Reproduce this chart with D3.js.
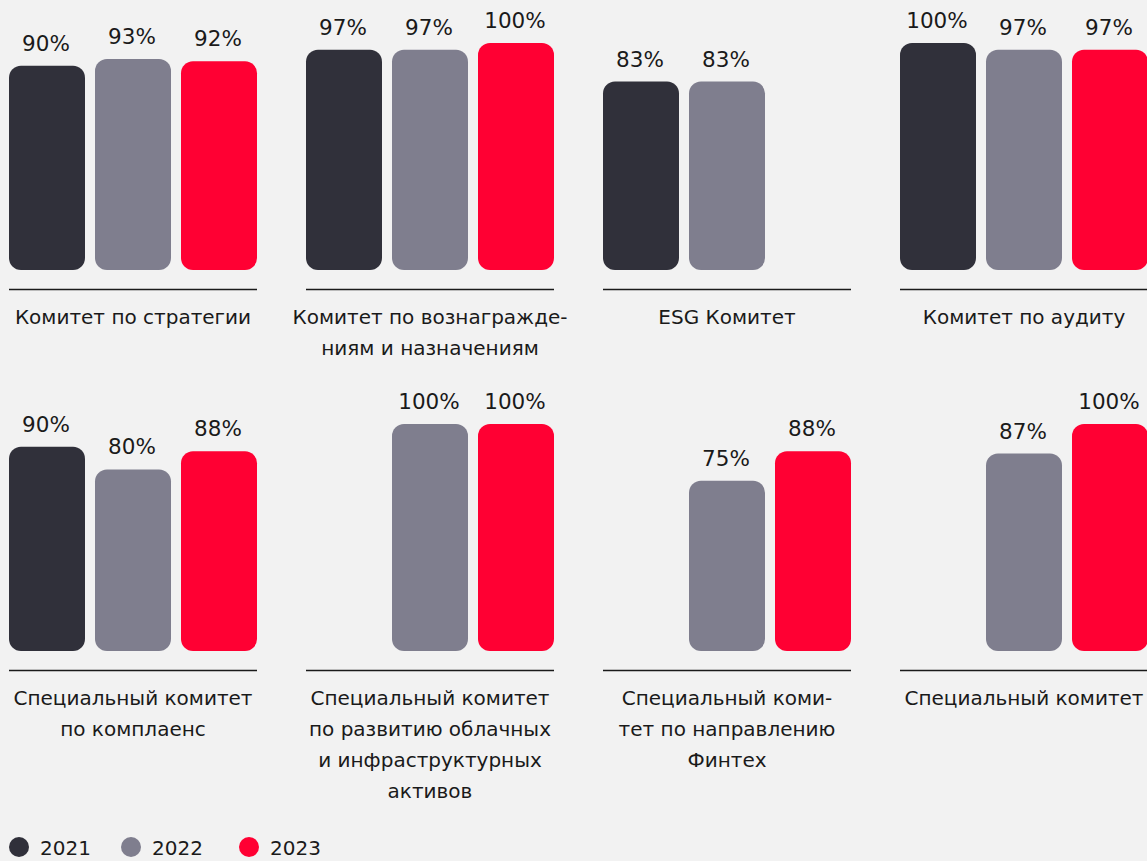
<!DOCTYPE html>
<html>
<head>
<meta charset="utf-8">
<script src="https://cdn.jsdelivr.net/npm/d3@7"></script>
<style>
  html, body { margin: 0; padding: 0; background: #f2f2f2; }
  svg { display: block; font-family: "DejaVu Sans", sans-serif; }
</style>
</head>
<body>
<div id="chart"></div>
<script>
var width = 1147,
    height = 861;

// data
var years = ["2021", "2022", "2023"];
var colors = ["#30303a", "#7f7e8e", "#ff0033"];

var committees = [
    ["Комитет по стратегии"],
    ["Комитет по вознагражде-", "ниям и назначениям"],
    ["ESG Комитет"],
    ["Комитет по аудиту"],
    ["Специальный комитет", "по комплаенс"],
    ["Специальный комитет", "по развитию облачных", "и инфраструктурных", "активов"],
    ["Специальный коми-", "тет по направлению", "Финтех"],
    ["Специальный комитет"]
];
var values2021 = [90, 97, 83, 100, 90, null, null, null];
var values2022 = [93, 97, 83, 97, 80, 100, 75, 87];
var values2023 = [92, 100, null, 97, 88, 100, 88, 100];

var series = [values2021, values2022, values2023];

var svg = d3.select("#chart")
    .append("svg")
    .attr("width", width)
    .attr("height", height);

svg.append("rect")
    .attr("width", "100%")
    .attr("height", "100%")
    .attr("fill", "#f2f2f2");

var panelW = 248,
    stride = 297,
    rowBase = [270, 651];   // bar bottoms of the two rows

var x = d3.scaleBand()
    .domain(years)
    .range([0, panelW])
    .paddingInner(10 / 86)
    .paddingOuter(0);

var h = d3.scaleLinear()
    .domain([0, 100])
    .range([0, 227]);

committees.forEach(function(lines, i) {
    var col = i % 4, row = Math.floor(i / 4);
    var g = svg.append("g")
        .attr("transform", "translate(" + (9 + col * stride) + "," + rowBase[row] + ")");

    var bars = years.map(function(y, k) {
        return { year: y, value: series[k][i], color: colors[k] };
    }).filter(function(d) { return d.value != null; });

    g.selectAll("rect.bar")
        .data(bars)
        .enter().append("rect")
        .attr("class", "bar")
        .attr("x", function(d) { return x(d.year); })
        .attr("y", function(d) { return -h(d.value); })
        .attr("width", x.bandwidth())
        .attr("height", function(d) { return h(d.value); })
        .attr("rx", 12)
        .attr("fill", function(d) { return d.color; });

    g.selectAll("text.val")
        .data(bars)
        .enter().append("text")
        .attr("class", "val")
        .attr("x", function(d) { return x(d.year) + x.bandwidth() / 2 - 1; })
        .attr("y", function(d) { return -h(d.value) - 15; })
        .attr("text-anchor", "middle")
        .attr("font-size", 21.5)
        .attr("fill", "#1a1a1a")
        .text(function(d) { return d.value + "%"; });

    // baseline rule
    g.append("line")
        .attr("x1", 0)
        .attr("x2", panelW)
        .attr("y1", 19.5)
        .attr("y2", 19.5)
        .attr("stroke", "#1a1a1a")
        .attr("stroke-width", 1.5);

    g.selectAll("text.cat")
        .data(lines)
        .enter().append("text")
        .attr("class", "cat")
        .attr("x", panelW / 2)
        .attr("y", function(d, j) { return 54 + j * 31; })
        .attr("text-anchor", "middle")
        .attr("font-size", 20)
        .attr("fill", "#1a1a1a")
        .text(function(d) { return d; });
});

// legend
var legendX = [19, 131, 249];
var legend = svg.append("g")
    .selectAll("g")
    .data(years)
    .enter().append("g")
    .attr("transform", function(d, k) { return "translate(" + legendX[k] + ",847)"; });

legend.append("circle")
    .attr("r", 10)
    .attr("fill", function(d, k) { return colors[k]; });

legend.append("text")
    .attr("x", 21)
    .attr("y", 8)
    .attr("font-size", 20)
    .attr("fill", "#1a1a1a")
    .text(function(d) { return d; });
</script>
</body>
</html>
